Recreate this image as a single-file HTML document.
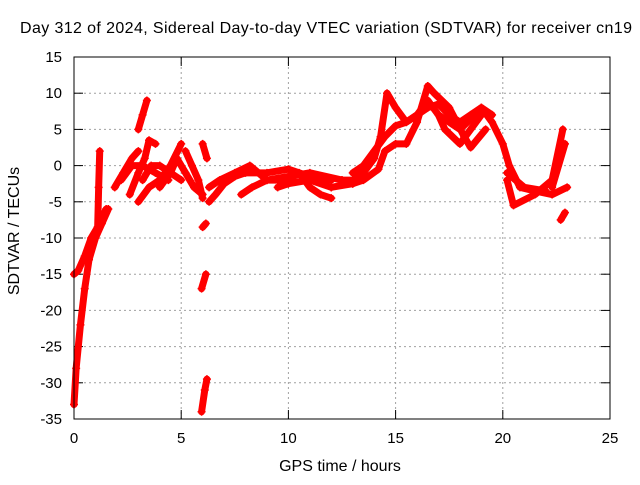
<!DOCTYPE html>
<html><head><meta charset="utf-8"><style>
body{margin:0;background:#fff}
svg text{font-family:"Liberation Sans",sans-serif;font-size:15px;fill:#000}
svg text.ttl{font-size:16px}
</style></head><body>
<svg id="chart" width="640" height="480" xmlns="http://www.w3.org/2000/svg">
<text class="ttl" x="326" y="33" text-anchor="middle" textLength="612">Day 312 of 2024, Sidereal Day-to-day VTEC variation (SDTVAR) for receiver cn19</text>
<text class="ttl" x="340" y="471" text-anchor="middle">GPS time / hours</text>
<text class="ttl" transform="translate(19,231) rotate(-90)" text-anchor="middle">SDTVAR / TECUs</text>
<g id="grid"></g>
<g id="marks"></g>
<rect x="74" y="57" width="536" height="362" fill="none" stroke="#000" stroke-width="1"/>
</svg>
<script>
const xTicks=[0,5,10,15,20,25];
const yTicks=[15,10,5,0,-5,-10,-15,-20,-25,-30,-35];
const tracks=[
[[0,-33],[0.1,-28],[0.3,-22],[0.5,-17],[0.7,-13],[1,-10],[1.3,-8],[1.6,-6]],
[[0,-15],[0.2,-14.5],[0.5,-12.5],[0.8,-10],[1.1,-8.5],[1.5,-6]],
[[1.1,-9],[1.15,-3],[1.2,2]],
[[1.9,-3],[2.3,-1],[2.7,1],[3.0,2]],
[[2.6,-4],[3.0,-1],[3.3,1],[3.5,3.5],[3.8,3]],
[[3.0,-5],[3.5,-3],[4.0,-2],[4.5,0],[5.0,3]],
[[3.2,-2],[3.6,0],[4.0,0],[4.5,-1],[5.0,-2]],
[[2.2,-2],[2.7,0],[3.2,0],[3.8,-1],[4.4,-2]],
[[4.0,-3],[4.5,-1],[4.8,1],[5.2,-1],[5.6,-3],[6.0,-4]],
[[5.2,2],[5.5,0],[5.8,-2],[6.0,-4.5]],
[[3.0,5],[3.2,7],[3.4,9]],
[[6.0,3],[6.2,1]],
[[6.0,-8.5],[6.15,-8]],
[[5.95,-17],[6.15,-15]],
[[5.95,-34],[6.1,-31],[6.2,-29.5]],
[[6.3,-5],[6.6,-4],[7,-2.5],[7.5,-1.5],[8,-1],[9,-1],[10,-0.5],[11,-1.5],[12,-2]],
[[6.3,-3],[6.8,-2],[7.5,-1],[8.2,0],[9,-2],[10,-2],[10.5,-1],[11,-3],[11.5,-4],[12,-4.5]],
[[7.8,-4],[8.3,-3],[9,-2],[10,-1.5],[11,-1],[12.5,-2],[13,-2.5]],
[[9.5,-3],[10,-2.5],[11,-2],[12,-3]],
[[12.5,-2],[13,-2],[13.5,-1],[14,1],[14.3,4],[14.6,10],[15,8],[15.5,6],[16,7],[16.5,9],[17,7],[17.5,6],[18,5],[18.7,7],[19,8],[19.5,6],[20,3],[20.3,0],[20.8,-3],[21.5,-3.5],[22.3,-4],[23,-3]],
[[13,-1],[13.5,0],[14,2],[14.5,4],[15,5.5],[15.5,6],[16,7],[16.5,8],[17,8.5],[17.5,7],[18,6],[18.5,7],[19,8],[19.5,7]],
[[12,-3],[13,-2.5],[13.5,-2],[14.2,-0.5],[14.5,2],[15,3],[15.5,3],[16,6],[16.5,11],[16.8,10],[17.5,8],[18.2,4],[18.5,2.5],[19.2,5]],
[[17,7],[17.3,5],[18,3],[18.5,5],[19,7]],
[[20.2,-2],[20.5,-5.5],[21.5,-4],[22.3,-2],[22.8,5]],
[[22.3,-3],[22.9,3]],
[[22.7,-7.5],[22.9,-6.5]],
[[20.2,-1],[21,-3],[22,-3.5]]
];
const X=v=>74+v*536/25, Y=v=>57+(15-v)*362/50;
const NS="http://www.w3.org/2000/svg";
const svg=document.getElementById('chart'),grid=document.getElementById('grid'),marks=document.getElementById('marks');
function mk(t,a,p){const e=document.createElementNS(NS,t);for(const k in a)e.setAttribute(k,a[k]);p.appendChild(e);return e;}
xTicks.forEach(t=>{const x=X(t);
 if(t>0&&t<25){const g=mk('line',{x1:x,x2:x,y1:57,y2:419,stroke:'#a0a0a0','stroke-dasharray':'2,3'},grid);}
 mk('line',{x1:x,x2:x,y1:419,y2:410,stroke:'#000'},grid);mk('line',{x1:x,x2:x,y1:57,y2:66,stroke:'#000'},grid);
 const l=mk('text',{x:x,y:443,'text-anchor':'middle'},svg);l.textContent=t;
 
 });
yTicks.forEach(t=>{const y=Y(t);
 if(t>-35&&t<15){const g=mk('line',{x1:74,x2:610,y1:y,y2:y,stroke:'#a0a0a0','stroke-dasharray':'2,3'},grid);}
 mk('line',{x1:74,x2:83,y1:y,y2:y,stroke:'#000'},grid);mk('line',{x1:601,x2:610,y1:y,y2:y,stroke:'#000'},grid);
 const l=mk('text',{x:62,y:y+5,'text-anchor':'end'},svg);l.textContent=t;
 
 });
tracks.forEach(tr=>{
 const p=mk('polyline',{points:tr.map(d=>X(d[0])+','+Y(d[1])).join(' '),fill:'none',stroke:'#ff0000','stroke-width':7,'stroke-linejoin':'round','stroke-linecap':'round'},marks);
 
 
 tr.forEach(d=>{const x=X(d[0]),y=Y(d[1]);
  const m=mk('path',{d:`M${x-4},${y}h8M${x},${y-4}v8`,stroke:'#ff0000','stroke-width':1.5},marks);
  
  });
});
</script>
</body></html>
